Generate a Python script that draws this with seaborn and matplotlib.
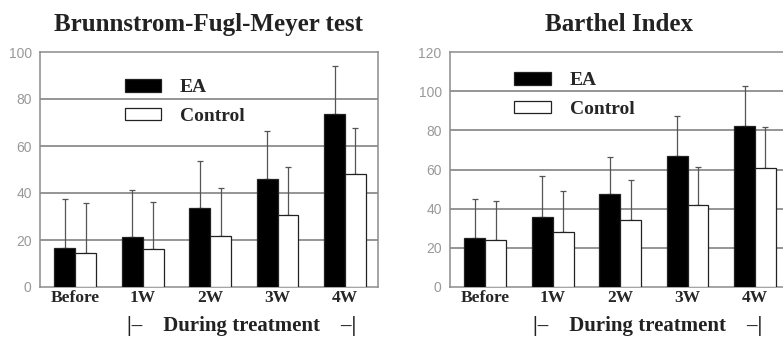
import numpy as np
import pandas as pd
import matplotlib
matplotlib.use("Agg")
import matplotlib.pyplot as plt
import seaborn as sns

# Assessment time points and groups
time_points = ["Before", "1W", "2W", "3W", "4W"]
groups = ["EA", "Control"]

# Brunnstrom-Fugl-Meyer scores (mean and SD)
fm_ea_mean = [16.6, 21.3, 33.6, 46.0, 73.6]
fm_ea_sd = [20.8, 20.0, 20.0, 20.3, 20.4]
fm_ctrl_mean = [14.5, 16.2, 21.7, 30.6, 48.0]
fm_ctrl_sd = [21.2, 20.0, 20.3, 20.5, 19.7]

# Barthel Index scores (mean and SD)
bi_ea_mean = [25.0, 35.7, 47.5, 67.0, 82.2]
bi_ea_sd = [20.0, 21.0, 18.9, 20.3, 20.4]
bi_ctrl_mean = [24.0, 28.0, 34.2, 41.9, 60.8]
bi_ctrl_sd = [20.0, 21.0, 20.4, 19.3, 21.0]

fm_ticks = [0, 20, 40, 60, 80, 100]
bi_ticks = [0, 20, 40, 60, 80, 100, 120]

SERIF = "Liberation Serif"
SANS = "Liberation Sans"
GRID = "#8c8c8c"


def make_frame(ea_mean, ea_sd, ctrl_mean, ctrl_sd):
    rows = []
    for i, t in enumerate(time_points):
        rows.append({"time": t, "group": "EA", "score": ea_mean[i], "sd": ea_sd[i]})
        rows.append({"time": t, "group": "Control", "score": ctrl_mean[i], "sd": ctrl_sd[i]})
    return pd.DataFrame(rows)


def draw_panel(ax, df, title, yticks, legend_anchor, note_x):
    sns.barplot(data=df, x="time", y="score", hue="group", order=time_points,
                hue_order=groups, palette={"EA": "black", "Control": "white"},
                edgecolor="#222222", linewidth=0.9, width=0.62, errorbar=None,
                ax=ax, zorder=3)
    # upper-only SD whiskers on each bar
    for g, cont in zip(groups, ax.containers):
        sub = df[df["group"] == g].set_index("time").loc[time_points]
        xs = [p.get_x() + p.get_width() / 2 for p in cont.patches]
        ys = sub["score"].to_numpy()
        err = sub["sd"].to_numpy()
        ax.errorbar(xs, ys, yerr=[np.zeros_like(err), err], fmt="none",
                    ecolor="#555555", elinewidth=0.9, capsize=2.2,
                    capthick=0.9, zorder=2)

    ax.set_xlim(-0.525, 4.49)
    ax.set_ylim(yticks[0], yticks[-1])
    ax.set_yticks(yticks)
    ax.set_yticklabels([str(v) for v in yticks], family=SANS, fontsize=10,
                       color="#999999")
    ax.tick_params(axis="y", length=0, pad=6)
    ax.set_xticks(range(len(time_points)))
    ax.set_xticklabels(time_points, family=SERIF, fontweight="bold",
                       fontsize=12.5)
    ax.tick_params(axis="x", length=0, pad=2)
    ax.set_xticks(np.arange(0.5, 4.5, 1), minor=True)
    ax.tick_params(axis="x", which="minor", direction="in", length=3,
                   color=GRID, width=0.8)
    ax.set_xlabel("")
    ax.set_ylabel("")
    ax.grid(False)
    for v in yticks[1:-1]:
        ax.axhline(v, color=GRID, lw=1.3, zorder=1)
    for s in ax.spines.values():
        s.set_visible(True)
        s.set_color(GRID)
        s.set_linewidth(1.1)

    ax.set_title(title, family=SERIF, fontweight="bold", fontsize=18,
                 color="#222222", pad=15)

    sns.move_legend(ax, "upper left", bbox_to_anchor=legend_anchor,
                    frameon=False, title=None, borderpad=0, borderaxespad=0,
                    handlelength=1.9, handleheight=0.62, handletextpad=0.95,
                    labelspacing=0.6, prop={"family": SERIF, "weight": "bold",
                                            "size": 14})

    ax.text(note_x, -0.168, "|–    During treatment    –|",
            transform=ax.get_xaxis_transform(), ha="center", va="center",
            family=SERIF, fontweight="bold", fontsize=15, color="#222222")


sns.set_theme(style="white")
plt.rcParams["font.family"] = [SERIF, "DejaVu Serif"]

fig = plt.figure(figsize=(7.83, 3.39), dpi=100)
ax1 = fig.add_axes([40 / 783, 1 - 287 / 339, 338 / 783, 235 / 339])
ax2 = fig.add_axes([450 / 783, 1 - 287 / 339, 338 / 783, 235 / 339])

draw_panel(ax1, make_frame(fm_ea_mean, fm_ea_sd, fm_ctrl_mean, fm_ctrl_sd),
           "Brunnstrom-Fugl-Meyer test", fm_ticks, (0.25, 0.885), 2.46)
draw_panel(ax2, make_frame(bi_ea_mean, bi_ea_sd, bi_ctrl_mean, bi_ctrl_sd),
           "Barthel Index", bi_ticks, (0.19, 0.915), 2.41)

fig.savefig("out.png", dpi=100)
